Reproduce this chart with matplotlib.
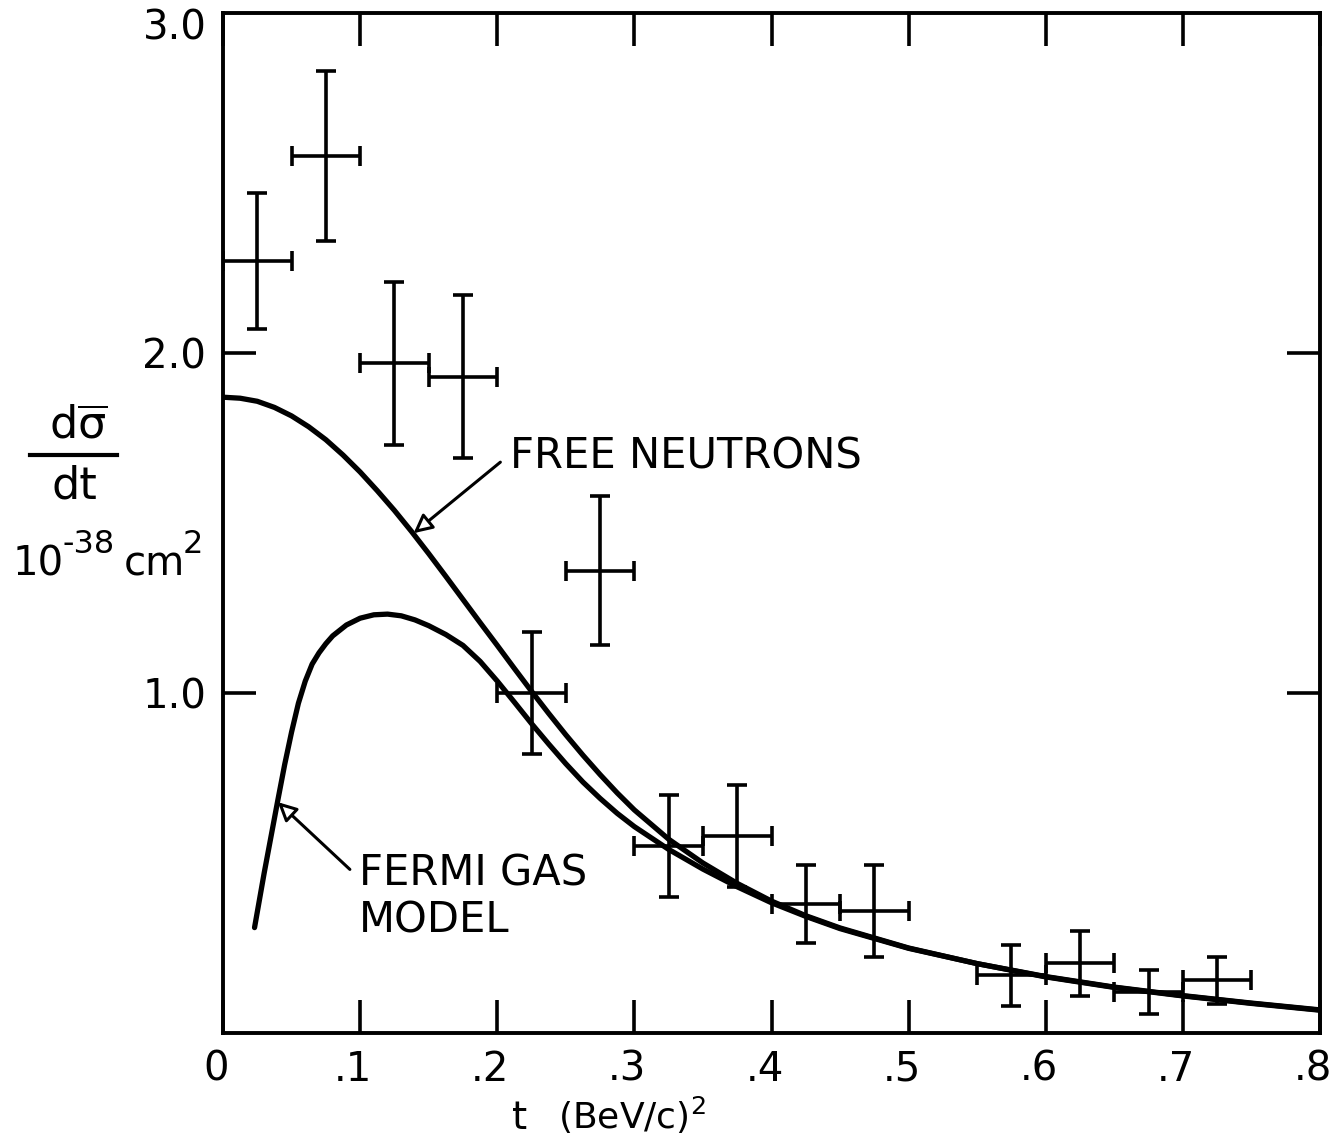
import numpy as np
import matplotlib
matplotlib.use("Agg")
import matplotlib.pyplot as plt
from matplotlib.lines import Line2D
from matplotlib.transforms import ScaledTranslation

plt.rcParams["font.family"] = ["DejaVu Sans"]
plt.rcParams["mathtext.fontset"] = "dejavusans"

# measured points: bin centers in t, d(sigma)/dt with errors
t_data = [0.025, 0.075, 0.125, 0.175, 0.225, 0.275, 0.325, 0.375, 0.425, 0.475, 0.575, 0.625, 0.675, 0.725]
y_data = [2.27, 2.58, 1.97, 1.93, 1.00, 1.36, 0.55, 0.58, 0.38, 0.36, 0.17, 0.205, 0.12, 0.155]
y_err = [0.20, 0.25, 0.24, 0.24, 0.18, 0.22, 0.15, 0.15, 0.115, 0.135, 0.09, 0.095, 0.065, 0.07]
t_err = [0.025] * len(t_data)

# free neutron curve
t_free = [0, 0.0125, 0.025, 0.0375, 0.05, 0.0625, 0.075, 0.0875, 0.1, 0.1125, 0.125, 0.1375,
          0.15, 0.1625, 0.175, 0.1875, 0.2, 0.2125, 0.225, 0.2375, 0.25, 0.2625, 0.275,
          0.2875, 0.3, 0.325, 0.35, 0.375, 0.4, 0.425, 0.45, 0.5, 0.55, 0.6, 0.65, 0.7,
          0.75, 0.8]
y_free = [1.87, 1.867, 1.858, 1.84, 1.815, 1.783, 1.745, 1.70, 1.65, 1.595, 1.537, 1.475,
          1.41, 1.343, 1.275, 1.207, 1.14, 1.072, 1.005, 0.94, 0.877, 0.817, 0.76,
          0.706, 0.656, 0.57, 0.50, 0.44, 0.388, 0.345, 0.309, 0.25, 0.204, 0.166, 0.135, 0.11,
          0.088, 0.068]

# fermi gas model curve
t_fermi = [0.023, 0.03, 0.04, 0.045, 0.05, 0.055, 0.06, 0.065, 0.07, 0.075, 0.08, 0.09,
           0.1, 0.11, 0.12, 0.13, 0.14, 0.15, 0.1625, 0.175, 0.1875, 0.2, 0.2125, 0.225,
           0.2375, 0.25, 0.2625, 0.275, 0.2875, 0.3, 0.325, 0.35, 0.375, 0.4, 0.425, 0.45,
           0.5, 0.55, 0.6, 0.65, 0.7, 0.75, 0.8]
y_fermi = [0.31, 0.47, 0.685, 0.79, 0.885, 0.97, 1.035, 1.085, 1.118, 1.145, 1.168, 1.20,
           1.22, 1.23, 1.232, 1.227, 1.215, 1.198, 1.172, 1.14, 1.093, 1.035, 0.973, 0.91,
           0.85, 0.792, 0.738, 0.69, 0.646, 0.607, 0.54, 0.482, 0.43, 0.383, 0.343, 0.307,
           0.249, 0.204, 0.165, 0.134, 0.109, 0.087, 0.067]

x_ticks = [0, 0.1, 0.2, 0.3, 0.4, 0.5, 0.6, 0.7, 0.8]
x_labels = ["0", ".1", ".2", ".3", ".4", ".5", ".6", ".7", ".8"]
y_ticks = [1.0, 2.0]
y_labels = ["1.0", "2.0"]

W, H = 1336, 1137
fig = plt.figure(figsize=(W / 100, H / 100), dpi=100)
ax = fig.add_axes([223 / W, 1 - 1033 / H, (1320 - 223) / W, (1033 - 13) / H])

lw_curve = 3.8
ax.plot(t_free, y_free, color="black", lw=lw_curve, solid_capstyle="round",
        solid_joinstyle="round")
ax.plot(t_fermi, y_fermi, color="black", lw=lw_curve, solid_capstyle="round",
        solid_joinstyle="round")

ax.errorbar(t_data, y_data, xerr=t_err, yerr=y_err, fmt="none", ecolor="black",
            elinewidth=2.6, capsize=7, capthick=2.6)

ax.set_xlim(0, 0.8)
ax.set_ylim(0, 3.0)
for s in ax.spines.values():
    s.set_linewidth(2.8)

ax.set_xticks(x_ticks)
ax.set_xticklabels(x_labels)
ax.set_yticks(y_ticks)
ax.set_yticklabels(y_labels)
ax.tick_params(direction="in", length=24, width=2.6, labelsize=29, top=True, right=True,
               pad=12)
ax.tick_params(axis="x", pad=12)
# hand lettered labels sit a little left of their ticks
shift = ScaledTranslation(-7 / 100, 0, fig.dpi_scale_trans)
for lab in ax.get_xticklabels():
    lab.set_transform(lab.get_transform() + shift)
ax.text(-0.012, 2.953, "3.0", ha="right", va="center", fontsize=29)

# annotations
ax.annotate("FREE NEUTRONS", xy=(0.139, 1.47), xytext=(0.209, 1.695),
            ha="left", va="center", fontsize=30,
            arrowprops=dict(arrowstyle="-|>", fc="white", ec="black", lw=2.2,
                            mutation_scale=28, shrinkA=6, shrinkB=0,
                            relpos=(0, 0.55)))
ax.annotate("FERMI GAS\nMODEL", xy=(0.040, 0.679), xytext=(0.099, 0.53),
            ha="left", va="top", fontsize=30, linespacing=1.15,
            arrowprops=dict(arrowstyle="-|>", fc="white", ec="black", lw=2.2,
                            mutation_scale=28, shrinkA=6, shrinkB=0,
                            relpos=(0, 0.72)))

# x axis label
fig.text(520 / W, 1 - 1118 / H, "t", ha="center", va="center", fontsize=28)
fig.text(632 / W, 1 - 1115 / H, "(BeV/c)$^2$", ha="center", va="center", fontsize=26)

# y axis label, drawn as a stacked fraction
fig.text(78 / W, 1 - 426 / H, r"d$\overline{\mathrm{\sigma}}$", ha="center", va="center",
         fontsize=32)
fig.add_artist(Line2D([30 / W, 117 / W], [1 - 455 / H, 1 - 455 / H], color="black",
                      lw=3, transform=fig.transFigure))
fig.text(74 / W, 1 - 486 / H, "dt", ha="center", va="center", fontsize=32)
fig.text(13 / W, 1 - 575 / H, "10", ha="left", va="baseline", fontsize=29)
fig.text(62 / W, 1 - 553 / H, "-38", ha="left", va="baseline", fontsize=23)
fig.text(124 / W, 1 - 575 / H, "cm", ha="left", va="baseline", fontsize=29)
fig.text(183 / W, 1 - 553 / H, "2", ha="left", va="baseline", fontsize=23)

fig.savefig("out.png", dpi=100, facecolor="white")
